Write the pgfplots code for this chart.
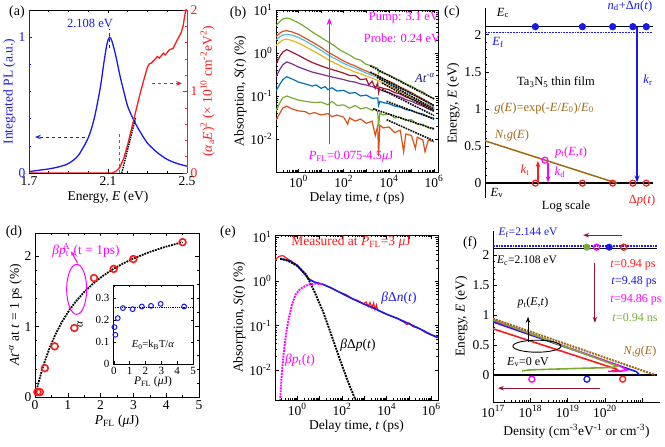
\documentclass[border=0pt]{standalone}
\usepackage{fontspec}
\setmainfont{Liberation Serif}
\usepackage{pgfplots}
\pgfplotsset{compat=1.18}
\usetikzlibrary{arrows.meta}
\definecolor{mblue}{RGB}{0,114,189}
\definecolor{morange}{RGB}{217,83,25}
\definecolor{myellow}{RGB}{237,177,32}
\definecolor{mpurple}{RGB}{126,47,142}
\definecolor{mgreen}{RGB}{119,172,48}
\definecolor{mcyan}{RGB}{77,190,238}
\definecolor{mdred}{RGB}{162,20,47}
\definecolor{pblue}{RGB}{25,25,235}
\definecolor{pred}{RGB}{255,25,25}
\definecolor{pmag}{RGB}{255,0,255}
\definecolor{brownc}{RGB}{160,105,20}
\definecolor{maroonc}{RGB}{150,20,45}
\definecolor{navyc}{RGB}{25,25,120}
\pgfplotsset{
  every axis/.append style={font=\fontsize{13.5}{15}\selectfont, scale only axis, anchor=south west,
    line width=0.6pt, tick align=inside, major tick length=3.5pt, minor tick length=2pt,
    every tick/.style={line width=0.5pt}, /pgf/number format/assume math mode=true},
  every axis label/.append style={font=\fontsize{13.5}{15}\selectfont},
}
\newcommand{\fs}{\fontsize{12.5}{14}\selectfont}
\newcommand{\sub}[1]{\textsubscript{#1}}
\newcommand{\sups}[1]{\textsuperscript{#1}}
\newcommand{\T}[3]{\node[#1] at (#2) {#3};}
\begin{document}
\begin{tikzpicture}
\path[use as bounding box] (0pt,0pt) rectangle (665pt,447pt);

% ================= (a) =================
\begin{axis}[at={(29pt,274pt)}, width=158pt, height=163pt,
  xmin=1.7, xmax=2.5, ymin=0, ymax=1.2, axis y line*=left,
  xtick={1.7,2.1,2.5}, xticklabels={1.7,2.1,2.5}, minor x tick num=3,
  ytick={0,1}, yticklabels={0,1}, minor ytick={0.2,0.4,0.6,0.8},
  y axis line style={pblue}, ytick style={pblue}, yticklabel style={pblue},
  xlabel={Energy, \textit{E} (eV)}, ylabel={Integrated PL (a.u.)}, ylabel style={pblue},
  xlabel style={yshift=2pt}, ylabel style={yshift=-4pt}]
\addplot[pblue, line width=1.3pt, smooth, tension=0.5] coordinates {
(1.7,0.01)(1.75,0.02)(1.8,0.03)(1.85,0.045)(1.9,0.07)(1.95,0.13)(2.0,0.26)(2.03,0.4)(2.06,0.62)
(2.08,0.82)(2.095,0.95)(2.108,1.0)(2.12,0.97)(2.14,0.86)(2.16,0.72)(2.18,0.6)(2.2,0.49)(2.23,0.39)
(2.26,0.31)(2.3,0.22)(2.35,0.15)(2.4,0.1)(2.45,0.07)(2.5,0.05)};
\addplot[pblue, dashed, line width=1pt] coordinates {(2.108,0.92)(2.108,1.06)};
\addplot[pblue, dashed, line width=1pt, -{Stealth[length=6pt]}] coordinates {(1.983,0.265)(1.73,0.265)};
\end{axis}
\begin{axis}[at={(29pt,274pt)}, width=158pt, height=163pt,
  xmin=1.7, xmax=2.5, ymin=0, ymax=2, axis y line*=right, axis x line=none,
  ytick={0,1,2}, yticklabels={0,1,2}, minor ytick={0.2,0.4,0.6,0.8,1.2,1.4,1.6,1.8},
  y axis line style={pred}, ytick style={pred}, yticklabel style={pred},
  ylabel={(\textit{α}\sub{a}\textit{E})\sups{2} (× 10\sups{10} cm\sups{-2}eV\sups{2})}, ylabel style={pred, yshift=4pt}]
\addplot[pred, line width=1.3pt] coordinates {
(1.7,0)(2.12,0)(2.14,0.02)(2.16,0.07)(2.18,0.18)(2.2,0.35)(2.22,0.55)(2.24,0.75)(2.26,0.95)(2.28,1.13)
(2.3,1.3)(2.31,1.34)(2.32,1.35)(2.34,1.4)(2.35,1.43)(2.36,1.41)(2.38,1.47)(2.39,1.45)(2.41,1.51)
(2.43,1.53)(2.45,1.63)(2.47,1.72)(2.48,1.8)(2.49,1.95)(2.5,2.05)};
\addplot[pmag, dashed, line width=1pt] coordinates {(2.16,0)(2.16,0.5)};
\addplot[black, densely dotted, line width=1.4pt] coordinates {(2.17,0)(2.24,0.68)};
\addplot[pred, dashed, line width=1pt, -{Stealth[length=6pt]}] coordinates {(2.322,1.1)(2.475,1.1)};
\end{axis}

% ================= (b) =================
\begin{axis}[at={(276pt,275pt)}, width=162pt, height=162pt,
  xmode=log, ymode=log, xmin=0.1, xmax=1.5e6, ymin=1.7e-3, ymax=10,
  xtick={0.1,1,10,100,1000,10000,100000,1000000},
  xticklabels={,10\sups{0},,10\sups{2},,10\sups{4},,10\sups{6}},
  ytick={0.01,0.1,1,10}, yticklabels={10\sups{-2},10\sups{-1},10\sups{0},10\sups{1}},
  xlabel={Delay time, \textit{t} (ps)}, ylabel={Absorption, \textit{S}(\textit{t}) (\%)},
  ylabel style={yshift=-3pt}, xlabel style={yshift=2pt}]
\addplot[morange, line width=1.2pt] coordinates {
(0.1,0.028)(0.15,0.04)(0.2,0.052)(0.3,0.058)(0.5,0.05)(1,0.045)(2,0.043)(3,0.038)(5,0.041)(10,0.036)(20,0.039)
(30,0.033)(50,0.036)(100,0.032)(150,0.022)(180,0.031)(320,0.026)(560,0.029)(1000,0.023)(1800,0.026)(2500,0.012)
(3200,0.02)(3500,0.004)(4000,0.021)(5600,0.018)(1e4,0.019)(1.8e4,0.014)(3.2e4,0.016)(4.5e4,0.005)(5.6e4,0.013)
(1e5,0.012)(1.5e5,0.006)(1.8e5,0.011)(3.2e5,0.0095)(4e5,0.005)(5.6e5,0.0095)(1e6,0.0085)};
\addplot[mgreen, line width=1.2pt] coordinates {
(0.1,0.045)(0.15,0.07)(0.2,0.09)(0.3,0.1)(0.5,0.09)(1,0.08)(2,0.075)(5,0.07)(10,0.072)(20,0.062)(30,0.075)
(50,0.06)(100,0.062)(180,0.052)(320,0.06)(560,0.05)(1000,0.054)(1800,0.046)(2500,0.05)(3200,0.042)(3500,0.02)
(4000,0.04)(5600,0.036)(1e4,0.038)(1.8e4,0.031)(3.2e4,0.032)(5.6e4,0.027)(1e5,0.028)(1.8e5,0.022)(3.2e5,0.022)
(5.6e5,0.018)(1e6,0.018)};
\addplot[mblue, line width=1.2pt] coordinates {
(0.1,0.13)(0.15,0.19)(0.2,0.24)(0.3,0.28)(0.5,0.25)(1,0.21)(2,0.19)(4,0.17)(6,0.18)(10,0.15)(15,0.165)
(20,0.14)(30,0.155)(50,0.13)(100,0.135)(180,0.115)(320,0.12)(560,0.1)(1000,0.105)(1800,0.088)(3200,0.09)
(3500,0.06)(4000,0.075)(5600,0.07)(1e4,0.066)(1.8e4,0.058)(3.2e4,0.055)(5.6e4,0.048)(1e5,0.046)(1.8e5,0.04)
(3.2e5,0.038)(5.6e5,0.033)(1e6,0.03)};
\addplot[mpurple, line width=1.2pt] coordinates {
(0.1,0.28)(0.15,0.42)(0.2,0.53)(0.3,0.62)(0.5,0.56)(1,0.47)(2,0.41)(4,0.36)(10,0.32)(20,0.29)(50,0.26)
(100,0.24)(180,0.22)(320,0.21)(560,0.19)(1000,0.18)(1800,0.165)(3200,0.15)(5600,0.13)(1e4,0.12)(1.8e4,0.105)
(3.2e4,0.095)(5.6e4,0.082)(1e5,0.075)(1.8e5,0.065)(3.2e5,0.058)(5.6e5,0.05)(1e6,0.045)};
\addplot[mdred, line width=1.2pt] coordinates {
(0.1,0.55)(0.15,0.85)(0.2,1.05)(0.3,1.2)(0.5,1.05)(1,0.88)(2,0.72)(4,0.6)(10,0.5)(20,0.44)(50,0.38)
(100,0.34)(180,0.3)(320,0.3)(560,0.24)(1000,0.25)(1300,0.18)(1800,0.22)(2500,0.15)(3200,0.2)(3500,0.12)
(4000,0.16)(5600,0.15)(1e4,0.14)(1.8e4,0.12)(3.2e4,0.11)(5.6e4,0.095)(1e5,0.085)(1.8e5,0.075)(3.2e5,0.065)
(5.6e5,0.055)(1e6,0.048)};
\addplot[myellow, line width=1.2pt] coordinates {
(0.1,1.5)(0.15,1.8)(0.2,2.0)(0.3,2.1)(0.5,1.95)(1,1.7)(2,1.4)(4,1.15)(10,0.88)(20,0.7)(50,0.55)
(100,0.46)(180,0.41)(320,0.36)(560,0.33)(1000,0.29)(1800,0.26)(3200,0.23)(5600,0.2)(1e4,0.17)(1.8e4,0.15)
(3.2e4,0.13)(5.6e4,0.11)(1e5,0.095)(1.8e5,0.083)(3.2e5,0.07)(5.6e5,0.06)(1e6,0.05)};
\addplot[mcyan, line width=1.2pt] coordinates {
(0.1,2.0)(0.15,2.4)(0.2,2.6)(0.3,2.7)(0.5,2.6)(1,2.3)(2,1.9)(4,1.55)(10,1.15)(20,0.9)(50,0.7)
(100,0.57)(180,0.5)(320,0.44)(560,0.39)(1000,0.34)(1800,0.3)(3200,0.27)(5600,0.23)(1e4,0.2)(1.8e4,0.17)
(3.2e4,0.15)(5.6e4,0.13)(1e5,0.11)(1.8e5,0.095)(3.2e5,0.08)(5.6e5,0.067)(1e6,0.055)};
\addplot[morange, line width=1.2pt] coordinates {
(0.1,2.4)(0.15,2.9)(0.2,3.2)(0.3,3.3)(0.5,3.1)(1,2.7)(2,2.2)(4,1.8)(10,1.35)(20,1.05)(50,0.8)
(100,0.65)(180,0.56)(320,0.5)(560,0.43)(1000,0.38)(1800,0.33)(3200,0.3)(5600,0.25)(1e4,0.22)(1.8e4,0.19)
(3.2e4,0.16)(5.6e4,0.14)(1e5,0.12)(1.8e5,0.1)(3.2e5,0.085)(5.6e5,0.072)(1e6,0.06)};
\addplot[mgreen, line width=1.2pt] coordinates {
(0.1,4.3)(0.13,5.0)(0.17,5.8)(0.22,6.3)(0.3,6.5)(0.4,6.3)(0.6,5.7)(1,5.0)(1.5,4.4)(2.5,3.7)(4,3.1)(6,2.7)
(10,2.3)(16,1.95)(25,1.7)(40,1.45)(63,1.2)(100,1.05)(180,0.9)(320,0.74)(560,0.68)(1000,0.54)(1800,0.5)
(3200,0.44)(3500,0.34)(4000,0.38)(5600,0.34)(1e4,0.31)(1.8e4,0.26)(3.2e4,0.23)(5.6e4,0.19)(1e5,0.17)
(1.8e5,0.14)(3.2e5,0.125)(5.6e5,0.1)(1e6,0.088)};
\addplot[black, densely dotted, line width=1.6pt] coordinates {(1500,0.5)(1e6,0.085)};
\addplot[black, densely dotted, line width=1.6pt] coordinates {(1500,0.36)(1e6,0.06)};
\addplot[black, densely dotted, line width=1.6pt] coordinates {(3000,0.27)(1e6,0.05)};
\addplot[black, densely dotted, line width=1.6pt] coordinates {(5000,0.2)(1e6,0.044)};
\addplot[black, densely dotted, line width=1.6pt] coordinates {(5000,0.14)(1e6,0.035)};
\addplot[black, densely dotted, line width=1.6pt] coordinates {(8000,0.075)(1e6,0.029)};
\addplot[black, densely dotted, line width=1.6pt] coordinates {(2000,0.05)(1e6,0.017)};
\addplot[black, densely dotted, line width=1.6pt] coordinates {(8000,0.028)(1e6,0.009)};
\addplot[pmag, line width=1.1pt, -{Stealth[length=7pt]}] coordinates {(23,0.0075)(23,6.5)};
\end{axis}

% ================= (c) =================
\begin{axis}[at={(485pt,249pt)}, width=168pt, height=190pt,
  xmin=0, xmax=1, ymin=-0.2, ymax=2.36, axis x line=none, axis y line*=left,
  ytick={0,0.5,1,1.5,2}, yticklabels={0,0.5,1,1.5,2}, minor y tick num=4,
  ylabel={Energy, \textit{E} (eV)}, ylabel style={yshift=-2pt}, clip=false]
\addplot[black, line width=1.5pt] coordinates {(0,2.108)(1,2.108)};
\addplot[pblue, densely dotted, line width=1.8pt] coordinates {(0,2.03)(1,2.03)};
\addplot[black, line width=1.5pt] coordinates {(0,0)(1,0)};
\addplot[brownc, line width=1.5pt] coordinates {(0,0.57)(0.785,0)};
\addplot[pblue, only marks, mark=*, mark size=3.3pt] coordinates {(0.30,2.108)(0.58,2.108)(0.76,2.108)(0.88,2.108)(0.96,2.108)};
\addplot[pred, only marks, mark=o, mark size=3pt, line width=1.2pt] coordinates {(0.30,0)(0.58,0)(0.76,0)(0.88,0)(0.96,0)};
\addplot[pmag, only marks, mark=o, mark size=3pt, line width=1.2pt] coordinates {(0.357,0.31)};
\addplot[pred, line width=1.2pt, -{Stealth[length=6pt]}] coordinates {(0.315,0)(0.315,0.3)};
\addplot[pmag, line width=1.2pt, -{Stealth[length=6pt]}] coordinates {(0.375,0.27)(0.375,0.01)};
\addplot[pblue, line width=1.2pt, -{Stealth[length=7pt]}] coordinates {(0.905,2.108)(0.905,0.01)};
\end{axis}

% ================= (d) =================
\begin{axis}[at={(35pt,50pt)}, width=164pt, height=164pt,
  xmin=0, xmax=5, ymin=0, ymax=2.33, xtick={0,1,2,3,4,5}, ytick={0,1,2},
  xticklabels={0,1,2,3,4,5}, yticklabels={0,1,2},
  minor x tick num=1, minor y tick num=4,
  xlabel={\textit{P}\sub{FL} (\textit{μ}J)}, ylabel={\textit{At}\sups{-\textit{α}} at \textit{t} = 1 ps (\%)},
  ylabel style={yshift=-4pt}, xlabel style={yshift=2pt}]
\addplot[black, densely dotted, line width=1.8pt] coordinates {
(0.05,0.10)(0.1,0.192)(0.2,0.361)(0.3,0.509)(0.45,0.702)(0.6,0.866)(0.8,1.049)(1.0,1.202)(1.2,1.332)
(1.5,1.492)(1.8,1.623)(2.1,1.731)(2.4,1.822)(2.7,1.900)(3.0,1.967)(3.5,2.061)(4.0,2.137)(4.5,2.200)};
\addplot[pred, only marks, mark=o, mark size=3.4pt, line width=1.6pt] coordinates {
(0.075,0.07)(0.15,0.07)(0.3,0.41)(0.6,0.72)(1.2,0.98)(1.8,1.69)(2.4,1.82)(3.0,1.96)(4.5,2.2)};
\draw[pmag, line width=1pt] (axis cs:1.27,1.53) ellipse [x radius=10pt, y radius=25pt];
\addplot[pmag, line width=1pt, -{Stealth[length=5pt]}] coordinates {(1.3,1.9)(1.1,2.07)};
\end{axis}
\begin{axis}[at={(113pt,83pt)}, width=80pt, height=79pt,
  xmin=-0.05, xmax=5, ymin=0, ymax=0.36, xtick={0,1,2,3,4,5}, ytick={0,0.1,0.2,0.3},
  xticklabels={0,1,2,3,4,5}, yticklabels={0,0.1,0.2,0.3},
  axis background/.style={fill=white}, clip=false,
  tick label style={font=\fontsize{11}{12}\selectfont},
  xlabel={\textit{P}\sub{FL} (\textit{μ}J)}, ylabel={\textit{α}},
  label style={font=\fontsize{11.5}{12}\selectfont},
  xlabel style={yshift=5pt}, ylabel style={yshift=6pt},
  major tick length=2.5pt]
\addplot[black, densely dotted, line width=1.2pt] coordinates {(-0.05,0.259)(5,0.259)};
\addplot[pblue, only marks, mark=o, mark size=2.4pt, line width=1pt] coordinates {
(0.04,0.168)(0.1,0.133)(0.25,0.209)(0.58,0.255)(1.19,0.25)(1.77,0.262)(2.35,0.265)(2.96,0.274)(4.44,0.262)};
\end{axis}

% ================= (e) =================
\begin{axis}[at={(275pt,47pt)}, width=163pt, height=165pt,
  xmode=log, ymode=log, xmin=0.1, xmax=2e6, ymin=2.1e-3, ymax=11,
  xtick={0.1,1,10,100,1000,10000,100000,1000000},
  xticklabels={,10\sups{0},,10\sups{2},,10\sups{4},,10\sups{6}},
  ytick={0.01,0.1,1,10}, yticklabels={10\sups{-2},10\sups{-1},10\sups{0},10\sups{1}},
  xlabel={Delay time, \textit{t} (ps)}, ylabel={Absorption, \textit{S}(\textit{t}) (\%)},
  ylabel style={yshift=-3pt}, xlabel style={yshift=2pt}]
\addplot[pred, line width=1.2pt] coordinates {
(0.1,2.9)(0.12,3.3)(0.15,3.6)(0.2,3.75)(0.25,3.7)(0.3,3.4)(0.5,2.9)(1,2.3)(2,1.55)(3.4,1.12)(6,0.95)
(14,0.85)(30,0.72)(80,0.56)(150,0.5)(300,0.4)(500,0.37)(900,0.31)(1200,0.34)(1500,0.27)(1800,0.33)(2200,0.25)
(2600,0.32)(3000,0.23)(3500,0.29)(4000,0.22)(1e4,0.18)(3e4,0.145)(6e4,0.12)(8e4,0.105)(1e5,0.115)(1.5e5,0.095)
(3e5,0.085)(6e5,0.068)(1e6,0.062)(1.6e6,0.055)(2e6,0.055)};
\addplot[pblue, line width=1.6pt] coordinates {
(0.17,3.2)(0.3,3.05)(0.5,2.8)(1,2.25)(2,1.5)(3.4,1.1)(6,0.95)(14,0.85)(30,0.72)(80,0.56)(300,0.4)
(900,0.31)(3000,0.24)(1e4,0.18)(3e4,0.145)(1e5,0.11)(3e5,0.085)(1e6,0.062)(2e6,0.054)};
\addplot[black, densely dotted, line width=1.9pt] coordinates {
(0.17,3.2)(0.3,3.0)(0.5,2.7)(1,2.2)(2.4,1.44)(5.7,0.6)(14,0.21)(33,0.063)(78,0.018)(187,0.0054)(375,0.0023)(420,0.002)};
\addplot[pmag, densely dotted, line width=1.9pt] coordinates {
(0.17,0.002)(0.2,0.008)(0.25,0.026)(0.32,0.07)(0.42,0.15)(0.6,0.32)(0.84,0.5)(1.2,0.63)(1.7,0.72)(2.5,0.8)
(4,0.86)(6.8,0.88)(10,0.87)(15,0.84)};
\end{axis}

% ================= (f) =================
\begin{axis}[at={(493pt,45pt)}, width=167pt, height=171pt,
  xmode=log, xmin=1e17, xmax=3e21, ymin=-0.45, ymax=2.4,
  axis x line*=bottom, axis y line*=left,
  xtick={1e17,1e18,1e19,1e20,1e21}, xticklabels={10\sups{17},10\sups{18},10\sups{19},10\sups{20},},
  ytick={0,0.5,1,1.5,2}, yticklabels={0,0.5,1,1.5,2}, minor y tick num=4,
  xlabel={Density (cm\sups{-3}eV\sups{-1} or cm\sups{-3})}, ylabel={Energy, \textit{E} (eV)},
  ylabel style={yshift=-2pt}, clip=false]
\addplot[black, line width=1.6pt] coordinates {(1e17,2.108)(2.5e21,2.108)};
\addplot[pblue, densely dotted, line width=1.8pt] coordinates {(1e17,2.144)(2.5e21,2.144)};
\addplot[black, line width=1.6pt] coordinates {(1e17,0)(2.5e21,0)};
\addplot[pred, line width=1.6pt] coordinates {(1e17,0.77)(2e20,0.1)(2.3e20,0.075)(1.5e20,0.065)};
\addplot[pblue, line width=1.6pt] coordinates {(1e17,0.885)(7e20,0.055)(8.5e20,0.0)};
\addplot[pmag, line width=1.6pt] coordinates {(1e17,0.91)(2.5e20,0.15)(4e20,0.085)(2.5e20,0.06)(1.2e20,0.06)};
\addplot[mgreen, line width=1.6pt] coordinates {(1e17,0.925)(2.2e20,0.145)(1.5e20,0.125)(1e19,0.105)(1e18,0.085)(6e17,0.07)};
\addplot[brownc, densely dotted, line width=2pt] coordinates {(1e17,0.94)(2.2e21,0.0)};
\addplot[only marks, mark=*, mark size=3.2pt, mgreen] coordinates {(3.3e19,2.13)};
\addplot[only marks, mark=o, mark size=3pt, line width=1.3pt, pmag] coordinates {(6e19,2.13)};
\addplot[only marks, mark=*, mark size=3.2pt, pblue] coordinates {(1.3e20,2.13)};
\addplot[only marks, mark=o, mark size=3pt, line width=1.3pt, pred] coordinates {(3.2e20,2.13)};
\addplot[only marks, mark=o, mark size=3pt, line width=1.3pt, pmag] coordinates {(1.1e18,-0.07)};
\addplot[only marks, mark=o, mark size=3pt, line width=1.3pt, pblue] coordinates {(3.3e19,-0.07)};
\addplot[only marks, mark=o, mark size=3pt, line width=1.3pt, pred] coordinates {(3e20,-0.07)};
\addplot[maroonc, line width=1pt, -{Stealth[length=6pt]}] coordinates {(2.9e20,2.33)(2.6e19,2.33)};
\addplot[maroonc, line width=1pt, -{Stealth[length=6pt]}] coordinates {(5.4e19,1.87)(5.4e19,0.87)};
\addplot[maroonc, line width=1pt, -{Stealth[length=6pt]}] coordinates {(7.4e19,-0.22)(1.35e17,-0.22)};
\draw[black, line width=0.9pt] (axis cs:1.5e18,0.48) ellipse [x radius=24pt, y radius=6pt];
\addplot[black, line width=0.9pt, -{Stealth[length=6pt]}] coordinates {(8.7e17,0.55)(8.7e17,0.97)};
\end{axis}

% ================= text =================
\begin{scope}[font=\fs]
\T{}{17pt,435pt}{\fontsize{14}{15}\selectfont (a)}
\T{pblue}{90pt,424pt}{2.108 eV}
\T{}{238pt,434pt}{\fontsize{14}{15}\selectfont (b)}
\T{pmag}{404pt,429pt}{Pump: 3.1 eV}
\T{pmag}{402pt,409pt}{Probe: 0.24 eV}
\T{navyc}{425pt,369pt}{\textit{At}\sups{-\textit{α}}}
\T{pmag}{351pt,290pt}{\textit{P}\sub{FL}=0.075-4.5\textit{μ}J}
\T{}{452pt,435pt}{\fontsize{14}{15}\selectfont (c)}
\T{}{503pt,434pt}{\textit{E}\sub{c}}
\T{pblue}{498pt,405pt}{\textit{E}\sub{f}}
\T{pblue}{630pt,441pt}{\textit{n}\sub{d}+Δ\textit{n}(\textit{t})}
\T{}{556pt,365pt}{Ta\sub{3}N\sub{5} thin film}
\T{pblue}{648pt,367pt}{\textit{k}\sub{r}}
\T{brownc}{544pt,339pt}{\textit{g}(\textit{E})=exp(-\textit{E}/\textit{E}\sub{0})/\textit{E}\sub{0}}
\T{brownc}{512pt,312pt}{\textit{N}\sub{t}\textit{g}(\textit{E})}
\T{pmag}{571pt,295pt}{\textit{p}\sub{t}(\textit{E},\textit{t})}
\T{pred}{525pt,277pt}{\textit{k}\sub{t}}
\T{pmag}{560pt,275pt}{\textit{k}\sub{d}}
\T{}{497pt,254pt}{\textit{E}\sub{v}}
\T{}{566pt,240pt}{Log scale}
\T{pred}{642pt,247pt}{Δ\textit{p}(\textit{t})}
\T{}{14pt,215pt}{\fontsize{14}{15}\selectfont (d)}
\T{pmag}{86pt,197pt}{\fontsize{13.5}{15}\selectfont \textit{βp}\textsubscript{t}\kern-0.45em\textsuperscript{A} (t = 1ps)}
\T{}{153pt,102pt}{\fontsize{10.5}{12}\selectfont \textit{E}\sub{0}=k\sub{B}T/\textit{α}}
\T{}{228pt,215pt}{\fontsize{14}{15}\selectfont (e)}
\T{pred}{351pt,205pt}{\fontsize{13.5}{15}\selectfont Measured at \textit{P}\sub{FL}=3 \textit{μ}J}
\T{pblue}{399pt,149pt}{\fontsize{13.5}{15}\selectfont \textit{β}Δ\textit{n}(\textit{t})}
\T{}{358pt,102pt}{\fontsize{13.5}{15}\selectfont \textit{β}Δ\textit{p}(\textit{t})}
\T{pmag}{300pt,87pt}{\fontsize{13.5}{15}\selectfont \textit{βp}\sub{t}(\textit{t})}
\T{}{470pt,204pt}{\fontsize{14}{15}\selectfont (f)}
\T{pblue}{528pt,214pt}{\fontsize{11.5}{13}\selectfont \textit{E}\sub{f}=2.144 eV}
\T{}{527pt,186pt}{\fontsize{11.5}{13}\selectfont \textit{E}\sub{c}=2.108 eV}
\T{pred}{633pt,182pt}{\fontsize{12}{13}\selectfont \textit{t}=0.94 ps}
\T{pblue}{634pt,165pt}{\fontsize{12}{13}\selectfont \textit{t}=9.48 ps}
\T{pmag}{636pt,147pt}{\fontsize{12}{13}\selectfont \textit{t}=94.86 ps}
\T{mgreen}{635pt,129pt}{\fontsize{12}{13}\selectfont \textit{t}=0.94 ns}
\T{}{533pt,144pt}{\fontsize{12}{13}\selectfont \textit{p}\sub{t}(\textit{E},\textit{t})}
\T{brownc}{640pt,95pt}{\fontsize{12}{13}\selectfont \textit{N}\sub{t}\textit{g}(\textit{E})}
\T{}{528pt,85pt}{\fontsize{12}{13}\selectfont \textit{E}\sub{v}=0 eV}
\end{scope}
\end{tikzpicture}
\end{document}
